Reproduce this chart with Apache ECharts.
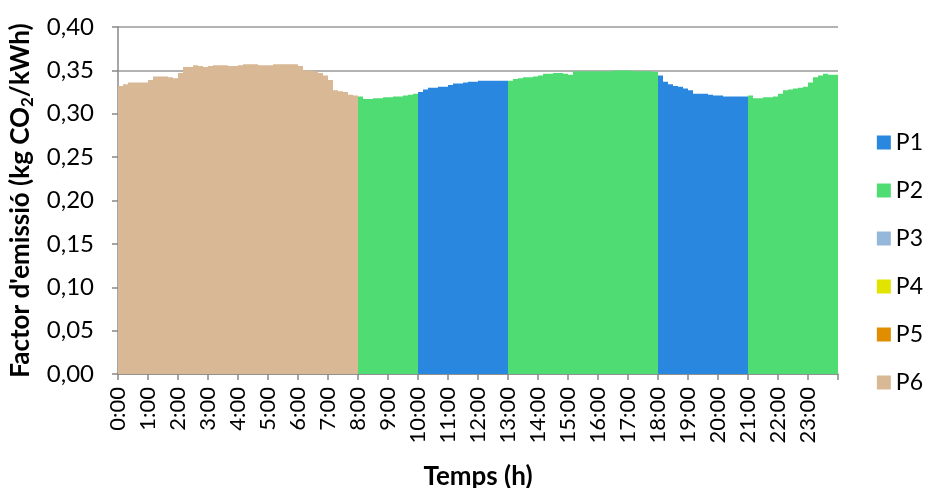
<!DOCTYPE html>
<html>
<head>
<meta charset="utf-8">
<script src="https://cdn.jsdelivr.net/npm/echarts@6/dist/echarts.min.js"></script>
<style>
  html, body { margin: 0; padding: 0; background: #fff; }
  #main { width: 929px; height: 488px; }
</style>
</head>
<body>
<div id="main"></div>
<script>
// factor d'emissio cada 10 minuts (144 valors)
var factor = [
  0.332, 0.334, 0.336, 0.336, 0.336, 0.336,
  0.339, 0.343, 0.343, 0.343, 0.342, 0.341,
  0.347, 0.354, 0.354, 0.356, 0.355, 0.354,
  0.355, 0.356, 0.356, 0.356, 0.355, 0.355,
  0.356, 0.357, 0.357, 0.357, 0.356, 0.356,
  0.356, 0.357, 0.357, 0.357, 0.357, 0.357,
  0.355, 0.350, 0.350, 0.349, 0.347, 0.344,
  0.339, 0.327, 0.326, 0.325, 0.322, 0.321,
  0.320, 0.317, 0.317, 0.318, 0.318, 0.319,
  0.319, 0.320, 0.320, 0.321, 0.322, 0.323,
  0.325, 0.328, 0.330, 0.330, 0.331, 0.331,
  0.333, 0.335, 0.335, 0.336, 0.337, 0.337,
  0.338, 0.338, 0.338, 0.338, 0.338, 0.338,
  0.338, 0.340, 0.341, 0.342, 0.342, 0.343,
  0.344, 0.346, 0.346, 0.347, 0.347, 0.346,
  0.345, 0.349, 0.349, 0.349, 0.349, 0.349,
  0.349, 0.349, 0.349, 0.350, 0.350, 0.350,
  0.350, 0.349, 0.349, 0.349, 0.349, 0.348,
  0.344, 0.337, 0.334, 0.332, 0.331, 0.329,
  0.327, 0.323, 0.323, 0.323, 0.322, 0.321,
  0.321, 0.320, 0.320, 0.320, 0.320, 0.320,
  0.321, 0.318, 0.318, 0.319, 0.319, 0.320,
  0.323, 0.327, 0.328, 0.329, 0.330, 0.331,
  0.336, 0.342, 0.344, 0.346, 0.345, 0.345
];

// periode tarifari de cada hora
var periodeHora = [
  'P6', 'P6', 'P6', 'P6', 'P6', 'P6', 'P6', 'P6',
  'P2', 'P2',
  'P1', 'P1', 'P1',
  'P2', 'P2', 'P2', 'P2', 'P2',
  'P1', 'P1', 'P1',
  'P2', 'P2', 'P2'
];

var periodes = ['P1', 'P2', 'P3', 'P4', 'P5', 'P6'];
var colors = ['#2a87e0', '#4fdc73', '#95b7d9', '#e3e300', '#e08e00', '#d8b895'];

var slots = factor.map(function (v, i) { return i; });

var series = periodes.map(function (p, k) {
  return {
    name: p,
    type: 'bar',
    stack: 'tot',
    xAxisIndex: 0,
    barCategoryGap: '0%',
    itemStyle: { color: colors[k] },
    data: factor.map(function (v, i) {
      return periodeHora[Math.floor(i / 6)] === p ? v : null;
    })
  };
});

var myChart = echarts.init(document.getElementById('main'));
myChart.setOption({
  animation: false,
  textStyle: { fontFamily: 'Lato' },
  grid: { left: 118, right: 91, top: 27, bottom: 114, outerBoundsMode: 'none' },
  legend: {
    orient: 'vertical',
    right: 1,
    top: 126,
    itemWidth: 14,
    itemHeight: 14,
    itemGap: 25,
    icon: 'rect',
    textStyle: { fontSize: 23, color: '#000', fontFamily: 'Lato', overflow: 'none' },
    data: periodes
  },
  xAxis: [
    { type: 'category', data: slots, show: false },
    {
      type: 'value',
      min: 0, max: 24, interval: 1,
      position: 'bottom',
      name: 'Temps (h)',
      nameLocation: 'middle',
      nameGap: 90,
      nameTextStyle: { fontSize: 26, fontWeight: 'bold', color: '#000', fontFamily: 'Lato' },
      axisLine: { lineStyle: { color: '#888', width: 1.5 } },
      axisTick: { show: true, length: 6, lineStyle: { color: '#888', width: 1.5 } },
      splitLine: { show: false },
      axisLabel: {
        rotate: 90,
        fontSize: 22,
        color: '#000',
        margin: 13,
        formatter: function (v) { return v >= 24 ? '' : v + ':00'; }
      }
    }
  ],
  yAxis: {
    type: 'value',
    min: 0, max: 0.4, interval: 0.05,
    name: "Factor d'emissió (kg CO{sub|2}/kWh)",
    nameLocation: 'middle',
    nameGap: 80,
    nameTextStyle: {
      fontSize: 26, fontWeight: 'bold', color: '#000', fontFamily: 'Lato',
      rich: { sub: { fontSize: 17, fontWeight: 'bold', fontFamily: 'Lato', padding: [14, 0, 0, 0] } }
    },
    axisLine: { show: true, lineStyle: { color: '#888', width: 1.5 } },
    axisTick: { show: true, length: 6, lineStyle: { color: '#888', width: 1.5 } },
    splitLine: { lineStyle: { color: '#999', width: 1.5 } },
    axisLabel: {
      fontSize: 24,
      color: '#000',
      margin: 24,
      formatter: function (v) { return v.toFixed(2).replace('.', ','); }
    }
  },
  series: series
});
</script>
</body>
</html>
